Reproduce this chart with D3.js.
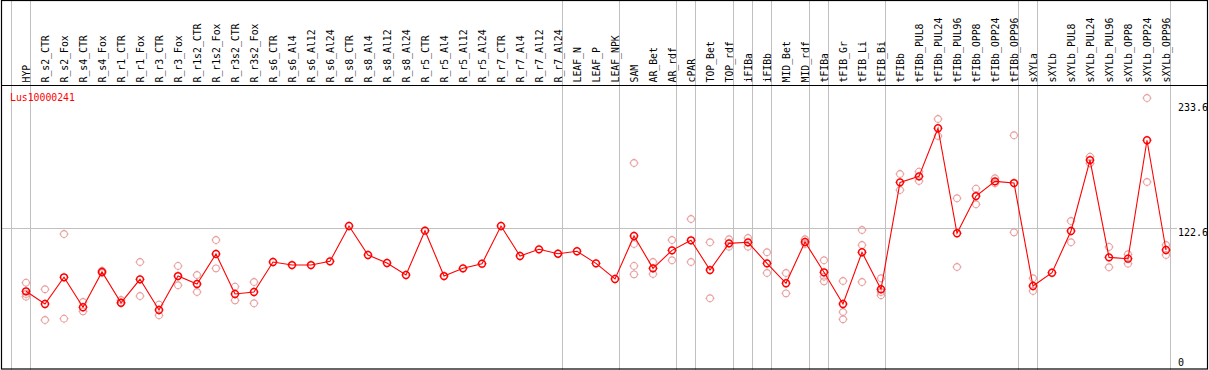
<!DOCTYPE html>
<html><head><meta charset="utf-8">
<script src="https://cdn.jsdelivr.net/npm/d3@7"></script>
<style>
html,body{margin:0;padding:0;background:#fff;}
svg{display:block;}
text{font-family:"DejaVu Sans Mono",monospace;}
</style></head>
<body>
<svg id="chart" width="1209" height="370"></svg>
<script>
const title = "Lus10000241";
const categories = ["HYP","R_s2_CTR","R_s2_Fox","R_s4_CTR","R_s4_Fox","R_r1_CTR","R_r1_Fox","R_r3_CTR","R_r3_Fox","R_r1s2_CTR","R_r1s2_Fox","R_r3s2_CTR","R_r3s2_Fox","R_s6_CTR","R_s6_Al4","R_s6_Al12","R_s6_Al24","R_s8_CTR","R_s8_Al4","R_s8_Al12","R_s8_Al24","R_r5_CTR","R_r5_Al4","R_r5_Al12","R_r5_Al24","R_r7_CTR","R_r7_Al4","R_r7_Al12","R_r7_Al24","LEAF_N","LEAF_P","LEAF_NPK","SAM","AR_Bet","AR_rdf","cPAR","TOP_Bet","TOP_rdf","iFIBa","iFIBb","MID_Bet","MID_rdf","tFIBa","tFIB_Gr","tFIB_Li","tFIB_Bi","tFIBb","tFIBb_PUL8","tFIBb_PUL24","tFIBb_PUL96","tFIBb_OPP8","tFIBb_OPP24","tFIBb_OPP96","sXYLa","sXYLb","sXYLb_PUL8","sXYLb_PUL24","sXYLb_PUL96","sXYLb_OPP8","sXYLb_OPP24","sXYLb_OPP96"];
const means = [66.9,55.7,79.3,52.8,84.0,56.8,77.5,50.4,80.4,73.4,99.9,64.5,66.3,92.8,90.1,90.1,93.4,124.6,99.0,91.9,81.3,120.5,80.4,87.2,91.3,124.6,98.1,104.0,100.1,102.3,91.6,77.8,115.8,87.2,103.1,112.0,85.7,109.3,110.2,91.6,74.0,110.5,83.7,55.7,101.4,68.7,163.2,168.5,211.0,118.2,151.1,164.1,162.6,71.6,83.3,120.2,182.9,96.9,95.7,200.4,103.4];
const replicates = [[74.5,64.5,62.1],[68.7,41.5],[117.5,42.7],[57.4,49.2],[85.1,83.1],[59.2,56.3],[92.8,62.7],[55.1,45.7],[89.3,72.2],[81.3,66.3],[112.2,87.2],[71.0,58.9],[75.1,56.3],[],[],[],[],[],[],[],[],[],[],[],[],[],[],[],[],[],[],[],[180.3,108.7,89.3,81.9],[92.8,82.2],[112.2,94.3],[130.8,92.8],[110.2,60.7],[112.9,106.3],[114.0,106.3],[101.4,83.1],[83.1,65.1],[112.9,108.7],[94.3,79.8,75.7],[76.0,48.6,42.2],[121.1,107.8,75.1],[78.4,66.3,63.4],[170.6,156.4],[172.6,164.4],[219.2,204.2],[149.1,88.4],[157.6,143.8],[166.8,162.4],[204.8,119.0],[78.4,67.2],[],[129.0,110.2],[185.9,180.0],[106.1,88.1],[99.6,91.3],[237.7,163.5],[107.8,99.0]];
const groupStarts = ["HYP","R_s2_CTR","LEAF_N","SAM","cPAR","TOP_Bet","iFIBa","iFIBb","MID_Bet","tFIBa","tFIB_Gr","tFIBb","sXYLa","sXYLb"];
const yTicks = [0,122.6,233.6];
const yGrid = [122.6];

const svg = d3.select("#chart");
const W = 1209, H = 370;
const x = d3.scalePoint().domain(categories).range([26, 26 + 19*(categories.length-1)]);
const y = d3.scaleLinear().domain([0, 233.6]).range([367, 102.7]);
const off = 15;

// vertical group lines
const vx = groupStarts.map(c => x(c) - off).concat([x(categories[categories.length-1]) + 4]);
svg.append("g").selectAll("line").data(vx).join("line")
  .attr("x1", d => d + 0.5).attr("x2", d => d + 0.5)
  .attr("y1", 0).attr("y2", H)
  .attr("stroke", "#c0c0c0").attr("stroke-width", 1);

// horizontal grid
svg.append("g").selectAll("line").data(yGrid).join("line")
  .attr("x1", 1).attr("x2", 1177)
  .attr("y1", d => Math.round(y(d)) + 0.5).attr("y2", d => Math.round(y(d)) + 0.5)
  .attr("stroke", "#c0c0c0").attr("stroke-width", 1);

// header labels
svg.append("g").selectAll("text").data(categories).join("text")
  .attr("transform", d => `translate(${x(d)},82.5) rotate(-90)`)
  .attr("dominant-baseline", "central")
  .attr("font-size", "9.8px").attr("fill", "#000")
  .text(d => d);

// frame
svg.append("rect").attr("x", 1.5).attr("y", 0.5).attr("width", 1206).attr("height", 368.5)
  .attr("fill", "none").attr("stroke", "#000").attr("stroke-width", 1.2);
svg.append("line").attr("x1", 1).attr("x2", 1208).attr("y1", 85.5).attr("y2", 85.5)
  .attr("stroke", "#000").attr("stroke-width", 1.2);

// title
svg.append("text").attr("x", 10).attr("y", 100.7).attr("fill", "#ff0000")
  .attr("font-size", "9.8px").text(title);

// y labels
svg.append("g").selectAll("text").data(yTicks).join("text")
  .attr("x", 1178).attr("y", d => Math.min(y(d) + 8, 366))
  .attr("font-size", "10px").attr("fill", "#000")
  .text(d => d);

// replicates
const reps = [];
categories.forEach((c, i) => replicates[i].forEach(v => reps.push({c, v})));
function marker(g, data, color, sw) {
  const m = g.selectAll("g").data(data).join("g")
    .attr("transform", d => `translate(${x(d.c)},${y(d.v)})`);
  m.append("circle").attr("r", 3.4).attr("fill", "none").attr("stroke", color).attr("stroke-width", sw);
  m.append("path").attr("d", "M0,-4.5V-3.9M0,3.9V4.5M-4.5,0H-3.9M3.9,0H4.5")
    .attr("stroke", color).attr("stroke-width", 1);
}
marker(svg.append("g"), reps, "#e89a9a", 1.1);

// mean line
const line = d3.line().x(d => x(d.c)).y(d => y(d.v));
const md = categories.map((c, i) => ({c, v: means[i]}));
svg.append("path").datum(md).attr("d", line)
  .attr("fill", "none").attr("stroke", "#ff0000").attr("stroke-width", 1.1);
marker(svg.append("g"), md, "#ff0000", 1.5);
</script>
</body></html>
